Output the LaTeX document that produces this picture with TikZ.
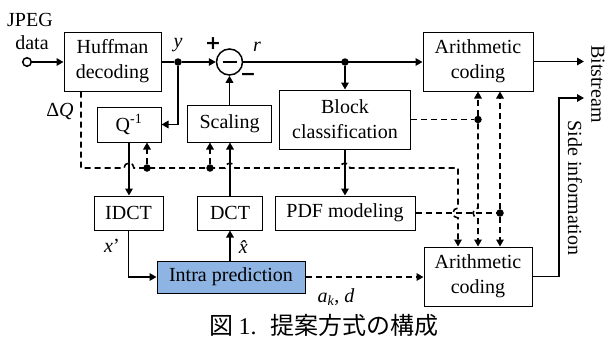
\documentclass[tikz,border=0pt]{standalone}
\usepackage{fontspec}
\setmainfont{Liberation Serif}
\newfontfamily\cjk{Noto Sans CJK JP}
\newfontfamily\signfont{DejaVu Sans}
\usetikzlibrary{arrows.meta,calc}
\definecolor{intrablue}{RGB}{142,180,227}
\begin{document}
\begin{tikzpicture}[x=1pt,y=-1pt,
  font=\fontsize{20}{25}\selectfont,
  box/.style={draw,line width=1pt,fill=white,align=center,inner sep=0pt},
  sline/.style={line width=1.6pt},
  conn/.style={sline,-{Triangle[length=7pt,width=7.5pt]}},
  dline/.style={sline,dash pattern=on 6pt off 4pt},
  dconn/.style={conn,dash pattern=on 6pt off 4pt},
  dot/.style={circle,fill,inner sep=0pt,minimum size=7.5pt},
  lbl/.style={inner sep=0pt}]
\useasboundingbox (0,0) rectangle (609,340);

% boxes
\node[box,minimum width=97pt,minimum height=59pt] (huff) at (112.5,61.5) {Huffman\\decoding};
\node[box,minimum width=110pt,minimum height=59pt] (atop) at (478,61.5) {Arithmetic\\coding};
\node[box,minimum width=131pt,minimum height=59pt] (blk) at (345,119.5) {Block\\classification};
\node[box,minimum width=64pt,minimum height=35pt] (qinv) at (129,124.5) {Q\textsuperscript{-1}};
\node[box,minimum width=84pt,minimum height=37pt] (scal) at (229.5,123.5) {Scaling};
\node[box,minimum width=69pt,minimum height=34pt] (idct) at (128.5,213) {IDCT};
\node[box,minimum width=65pt,minimum height=34pt] (dct) at (230,213) {DCT};
\node[box,minimum width=140pt,minimum height=34pt] (pdf) at (345,213) {PDF modeling};
\node[box,fill=intrablue,minimum width=148pt,minimum height=32pt] (intra) at (231,277) {Intra prediction};
\node[box,minimum width=108pt,minimum height=59pt] (abot) at (478,276.5) {Arithmetic\\coding};

% input
\node[circle,draw,line width=1.5pt,fill=white,inner sep=0pt,minimum size=8.5pt] (in) at (27,62) {};
\node[lbl] (jpeg) at (30,20) {JPEG};
\node[lbl] (data) at (32,43) {data};
\draw[conn] (in) -- (in -| huff.west);

% y / sum
\node[dot] (ydot) at (178,62) {};
\node[circle,draw,line width=1.5pt,inner sep=0pt,minimum size=26pt] (sum) at (229.5,62) {};
\draw[line width=1.6pt] ([xshift=-7pt]sum.center) -- ([xshift=7pt]sum.center);
\draw[sline] (huff.east |- ydot) -- (ydot);
\draw[conn] (ydot) -- (sum.west);
\node[dot] (rdot) at (345,62) {};
\draw[conn] (sum.east) -- (sum.east -| atop.west);
\draw[conn] (rdot) -- (rdot |- blk.north);
\draw[conn] (ydot) |- (qinv.east);
\draw[conn] (sum.south |- scal.north) -- (sum.south);

\node[lbl] (ylab) at (178,45) {\textit{y}};
\node[lbl,font=\signfont\fontsize{19}{22}\selectfont\bfseries] (plus) at (213,44) {+};
\node[lbl,font=\signfont\fontsize{19}{22}\selectfont\bfseries] (minus) at (248,77) {−};
\node[lbl] (rlab) at (257,47) {\textit{r}};

% outputs
\coordinate (bsend) at (584,61.5);
\draw[conn] (atop.east) -- (bsend);
\node[lbl,rotate=-90] (bits) at (598,84) {Bitstream};
\coordinate (siend) at (584,98);
\draw[conn] (abot.east) -| ([xshift=-25pt]siend) -- (siend);
\node[lbl,rotate=-90] (side) at (575,188) {Side information};

% solid chain
\draw[conn] (qinv.south) -- (qinv.south |- idct.north);
\draw[conn] (idct.south) |- (intra.west);
\draw[conn] (intra.north -| dct.south) -- (dct.south);
\draw[conn] (dct.north) -- (dct.north |- scal.south);
\draw[conn] (blk.south) -- (pdf.north);
\draw[dconn] (intra.east) -- (intra.east -| abot.west);

\node[lbl] (xp) at (112,246) {\textit{x}’};
\node[lbl] (xh) at (247,247) {\textit{\^{x}}};
\node[lbl] (akd) at (336,297) {\textit{a}\textsubscript{\textit{k}}, \textit{d}};
\node[lbl] (dq) at (60,111) {Δ\textit{Q}};

% dashed side information
\coordinate (dqy) at (0,168);
\coordinate (dqs) at ([xshift=-31.5pt]huff.south);
\coordinate (in1) at ([xshift=-20pt]abot.north);
\coordinate (in2) at (abot.north);
\coordinate (in3) at ([xshift=22pt]abot.north);
\coordinate (c1) at (qinv.south |- dqy);
\coordinate (c2) at (dct.north |- dqy);
\coordinate (c3) at (blk.south |- dqy);
\coordinate (c4) at (in1 |- pdf.east);
\coordinate (c5) at (in2 |- pdf.east);
\coordinate (q1) at ([xshift=18pt]qinv.south);
\coordinate (s1) at ([xshift=-19.5pt]scal.south);
\node[dot] (dq1) at (q1 |- dqy) {};
\node[dot] (dq2) at (s1 |- dqy) {};
\draw[dconn] (dqs) -- (dqs |- dqy)
  -- ([xshift=-5pt]c1) arc[start angle=180,end angle=0,radius=5pt]
  -- ([xshift=-5pt]c2) arc[start angle=180,end angle=0,radius=5pt]
  -- ([xshift=-5pt]c3) arc[start angle=180,end angle=0,radius=5pt]
  -- (in1 |- dqy)
  -- ([yshift=5pt]c4) arc[start angle=90,end angle=270,radius=5pt]
  -- (in1);
\draw[dconn] (dq1) -- (q1);
\draw[dconn] (dq2) -- (s1);

\node[dot] (bdot) at (in2 |- blk.east) {};
\draw[dline] (blk.east) -- (bdot);
\draw[dconn] (bdot) -- (bdot |- atop.south);
\draw[dconn] (bdot) -- ([yshift=5pt]c5) arc[start angle=90,end angle=270,radius=5pt] -- (in2);

\node[dot] (pdot) at (in3 |- pdf.east) {};
\draw[dline] (pdf.east) -- (pdot);
\draw[dconn] (pdot) -- (pdot |- atop.south);
\draw[dconn] (pdot) -- (in3);

% caption
\node[lbl,anchor=base,font=\fontsize{24}{28}\selectfont] (cap) at (324,334) {{\cjk 図}\hspace{5pt}1.\hspace{14pt}{\cjk 提案方式の構成}};
\end{tikzpicture}
\end{document}
